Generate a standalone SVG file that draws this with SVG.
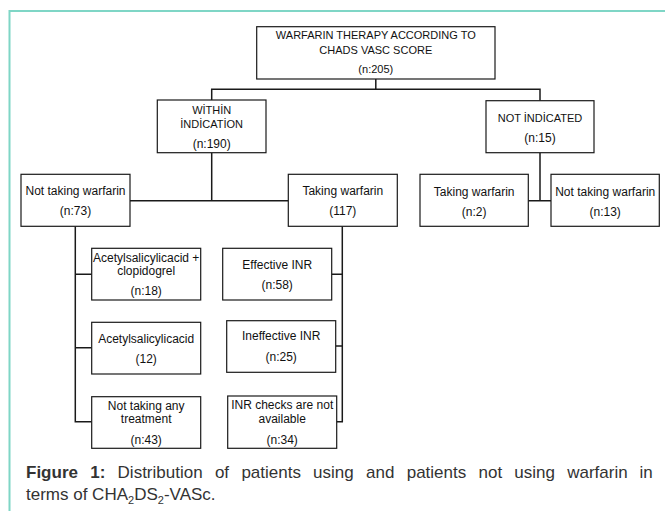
<svg xmlns="http://www.w3.org/2000/svg" width="665" height="511" viewBox="0 0 665 511">
<style>
.bg{fill:#ffffff}
.frame{fill:none;stroke:#7fd6c6;stroke-width:2}
.box rect{fill:#ffffff;stroke:#1a1a1a;stroke-width:1.2}
.box text{font-family:"Liberation Sans",Arial,sans-serif;font-size:12px;fill:#111;text-anchor:middle}
.box text.uc{font-size:11px}
.conn path{fill:none;stroke:#1a1a1a;stroke-width:1.5}
.cap{font-family:"Liberation Sans",Arial,sans-serif;font-size:17px;fill:#333}
.cap .b{font-weight:bold}
</style>
<rect class="bg" x="0" y="0" width="665" height="511"/>
<path class="frame" d="M9.5 511 V11 H665"/>

<g id="connectors" class="conn">
  <path d="M375.8 79 V89.3 M211.7 100 V89.3 H540 V100.7"/>
  <path d="M211.7 152.7 V200.7 M130 200.7 H288.3"/>
  <path d="M540 152.7 V200.7 M528.3 200.7 H551"/>
  <path d="M75.3 226.3 V421.7 H91.7 M75.3 274.3 H91.7 M75.3 347.7 H91.7"/>
  <path d="M342.3 226.3 V421.7 H336.7 M342.3 274.3 H331.7 M342.3 346 H335.7"/>
</g>

<g id="root" class="box">
  <rect x="256.7" y="26.7" width="238.3" height="52.3"/>
  <text class="uc" x="375.8" y="39">WARFARIN THERAPY ACCORDING TO</text>
  <text class="uc" x="375.8" y="54">CHADS VASC SCORE</text>
  <text class="uc" x="375.8" y="73.3">(n:205)</text>
</g>

<g id="within" class="box">
  <rect x="157.3" y="100" width="108.7" height="52.7"/>
  <text class="uc" x="211.7" y="114">WİTHİN</text>
  <text class="uc" x="211.7" y="128">İNDİCATİON</text>
  <text x="211.7" y="147.5">(n:190)</text>
</g>

<g id="notindicated" class="box">
  <rect x="486" y="100.7" width="108" height="52"/>
  <text class="uc" x="540" y="121.5">NOT İNDİCATED</text>
  <text x="540" y="141.5">(n:15)</text>
</g>

<g id="w-not-taking" class="box">
  <rect x="21" y="174.3" width="109" height="52"/>
  <text x="75.5" y="195.3">Not taking warfarin</text>
  <text x="75.5" y="215.3">(n:73)</text>
</g>

<g id="w-taking" class="box">
  <rect x="288.3" y="174.3" width="109" height="52"/>
  <text x="342.8" y="195.3">Taking warfarin</text>
  <text x="342.8" y="215.3">(117)</text>
</g>

<g id="ni-taking" class="box">
  <rect x="420" y="174.3" width="108.3" height="52"/>
  <text x="474.2" y="195.8">Taking warfarin</text>
  <text x="474.2" y="215.8">(n:2)</text>
</g>

<g id="ni-not-taking" class="box">
  <rect x="551" y="174.3" width="108.3" height="52"/>
  <text x="605.2" y="195.8">Not taking warfarin</text>
  <text x="605.2" y="215.8">(n:13)</text>
</g>

<g id="asa-clop" class="box">
  <rect x="91.7" y="248.3" width="109" height="51.7"/>
  <text x="146.2" y="262">Acetylsalicylicacid +</text>
  <text x="146.2" y="275.3">clopidogrel</text>
  <text x="146.2" y="295.3">(n:18)</text>
</g>

<g id="asa" class="box">
  <rect x="91.7" y="322.3" width="109" height="51.7"/>
  <text x="146.2" y="342.6">Acetylsalicylicacid</text>
  <text x="146.2" y="362.6">(12)</text>
</g>

<g id="no-treatment" class="box">
  <rect x="91.7" y="396.7" width="109" height="51.6"/>
  <text x="146.2" y="410">Not taking any</text>
  <text x="146.2" y="423.3">treatment</text>
  <text x="146.2" y="443.6">(n:43)</text>
</g>

<g id="effective" class="box">
  <rect x="222.7" y="248.3" width="109" height="51.7"/>
  <text x="277.2" y="269.3">Effective INR</text>
  <text x="277.2" y="288.6">(n:58)</text>
</g>

<g id="ineffective" class="box">
  <rect x="226.7" y="320.7" width="109" height="51.6"/>
  <text x="281.2" y="340.3">Ineffective INR</text>
  <text x="281.2" y="361">(n:25)</text>
</g>

<g id="inr-na" class="box">
  <rect x="227.7" y="396" width="109" height="52.3"/>
  <text x="282.2" y="409.3">INR checks are not</text>
  <text x="282.2" y="422.6">available</text>
  <text x="282.2" y="443.6">(n:34)</text>
</g>

<g id="caption">
  <text class="cap" y="477.5"><tspan class="b" x="26">Figure</tspan><tspan class="b" x="90.2">1:</tspan><tspan x="117.6">Distribution</tspan><tspan x="214.9">of</tspan><tspan x="241.4">patients</tspan><tspan x="313.1">using</tspan><tspan x="366">and</tspan><tspan x="406.7">patients</tspan><tspan x="478.5">not</tspan><tspan x="514.3">using</tspan><tspan x="567.2">warfarin</tspan><tspan x="639.5">in</tspan></text>
  <text class="cap" x="26" y="499.5">terms of CHA<tspan font-size="11" dy="4">2</tspan><tspan dy="-4">DS</tspan><tspan font-size="11" dy="4">2</tspan><tspan dy="-4">-VASc.</tspan></text>
</g>
</svg>
